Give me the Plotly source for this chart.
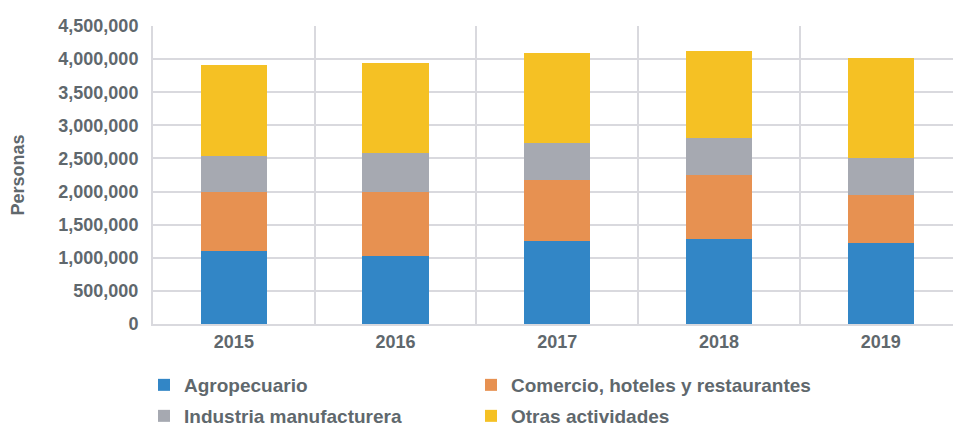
import plotly.graph_objects as go

years = ["2015", "2016", "2017", "2018", "2019"]
agropecuario = [1104000, 1029000, 1254000, 1290000, 1219000]
comercio = [888000, 963000, 924000, 963000, 733000]
industria = [552000, 587000, 552000, 552000, 552000]
otras = [1365000, 1365000, 1364000, 1319000, 1515000]

series = [
    ("Agropecuario", agropecuario, "#3286c6", "legend"),
    ("Comercio, hoteles y restaurantes", comercio, "#e79151", "legend2"),
    ("Industria manufacturera", industria, "#a6a9b1", "legend3"),
    ("Otras actividades", otras, "#f5c124", "legend4"),
]

TXT = "#5f686d"
GRID = "#d9d9de"
FONT = "Liberation Sans, Arial, sans-serif"

fig = go.Figure()
for name, vals, color, lg in series:
    fig.add_trace(go.Bar(
        x=years, y=vals, name=name, legend=lg, showlegend=True,
        marker=dict(color=color, line=dict(width=0)),
        hoverinfo="x+y+name",
    ))

legend_common = dict(
    orientation="h", xref="container", yref="container",
    xanchor="left", yanchor="middle",
    font=dict(family=FONT, size=19, color=TXT, weight="bold"),
    bgcolor="rgba(0,0,0,0)", itemwidth=30,
)
col1, col2 = 144 / 953, 471 / 953
row1, row2 = 1 - 385 / 427, 1 - 416 / 427

fig.update_layout(
    width=953, height=427,
    showlegend=True,
    margin=dict(l=153, r=0, t=26, b=103, autoexpand=False),
    barmode="stack", bargap=0.59,
    plot_bgcolor="white", paper_bgcolor="white",
    font=dict(family=FONT, color=TXT),
    legend=dict(legend_common, x=col1, y=row1),
    legend2=dict(legend_common, x=col2, y=row1),
    legend3=dict(legend_common, x=col1, y=row2),
    legend4=dict(legend_common, x=col2, y=row2),
    xaxis=dict(
        type="category", tickson="boundaries", range=[-0.5, 4.447],
        showgrid=True, gridcolor=GRID, gridwidth=2,
        showline=True, linecolor=GRID, linewidth=2,
        ticks="", ticklabelstandoff=0,
        tickfont=dict(family=FONT, size=18, color=TXT, weight="bold"),
    ),
    yaxis=dict(
        range=[0, 4500000], dtick=500000, tickformat=",d",
        showgrid=True, gridcolor=GRID, gridwidth=2,
        showline=True, linecolor=GRID, linewidth=2,
        zeroline=False, ticks="", ticklabelstandoff=9,
        tickfont=dict(family=FONT, size=18, color=TXT, weight="bold"),
        title=dict(text="Personas", standoff=29,
                   font=dict(family=FONT, size=18, color=TXT, weight="bold")),
    ),
)

fig.write_html(
    "out.html",
    config={"displayModeBar": False},
    post_script="document.body.style.margin='0';document.body.style.overflow='hidden';",
)
